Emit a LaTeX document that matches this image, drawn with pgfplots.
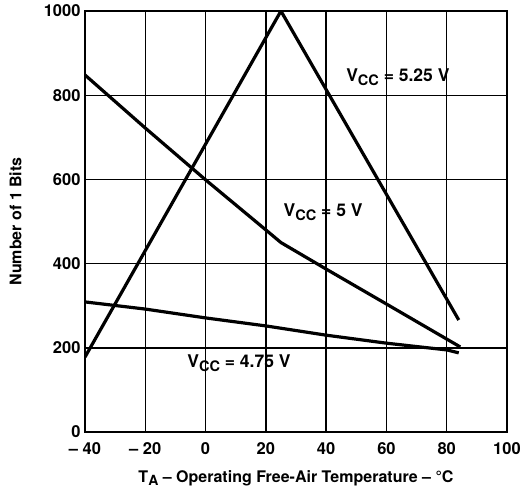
\documentclass[border=0pt]{standalone}
\usepackage{fontspec}
\setmainfont{TeX Gyre Heros}
\usepackage{pgfplots}
\pgfplotsset{compat=1.18}
\newcommand{\vcc}{V\raisebox{-0.4ex}{\fontsize{14.5}{15}\selectfont CC}}
\begin{document}
\begin{tikzpicture}
\useasboundingbox (-85pt,-59pt) rectangle (437pt,432pt);
\begin{axis}[
  scale only axis, width=422pt, height=421pt,
  xmin=-40, xmax=100, ymin=0, ymax=1000,
  xtick={-40,-20,...,100},
  xticklabels={– 40,– 20,0,20,40,60,80,100},
  ytick={0,200,...,1000},
  grid=major,
  major grid style={black, line width=1.4pt},
  axis line style={line width=2.5pt},
  major tick length=0pt,
  tick label style={font=\fontsize{16.5}{18}\selectfont\bfseries},
  xticklabel style={yshift=-7pt},
  yticklabel style={xshift=-1pt},
  /pgf/number format/assume math mode=true,
  /pgf/number format/1000 sep={},
  xlabel={T\raisebox{-0.4ex}{\fontsize{14}{15}\selectfont A} – Operating Free-Air Temperature – °C},
  ylabel={Number of 1 Bits},
  label style={font=\fontsize{16}{18}\selectfont\bfseries},
  xlabel style={at={(axis description cs:0.5,0)}, anchor=center, yshift=-46pt},
  ylabel style={at={(axis description cs:-0.165,0.5)}, anchor=center},
]
\addplot[black, line width=3.2pt, line join=round] coordinates {(-40,178) (25,1000) (84,266)};
\addplot[black, line width=3.2pt, line join=round] coordinates {(-40,848) (-20,722) (0,599) (20,480) (25,450) (40,387) (60,304) (84.5,202)};
\addplot[black, line width=3.2pt, line join=round] coordinates {(-40,309) (-20,292) (0,271) (20,252) (40,230) (60,211) (80,195) (84,188)};
\node[font=\fontsize{17.5}{18}\selectfont\bfseries] at (axis cs:63.8,843) {\vcc\ = 5.25 V};
\node[font=\fontsize{17.5}{18}\selectfont\bfseries] at (axis cs:39,522) {\vcc\ = 5 V};
\node[font=\fontsize{17.5}{18}\selectfont\bfseries] at (axis cs:11.1,164) {\vcc\ = 4.75 V};
\end{axis}
\end{tikzpicture}
\end{document}
